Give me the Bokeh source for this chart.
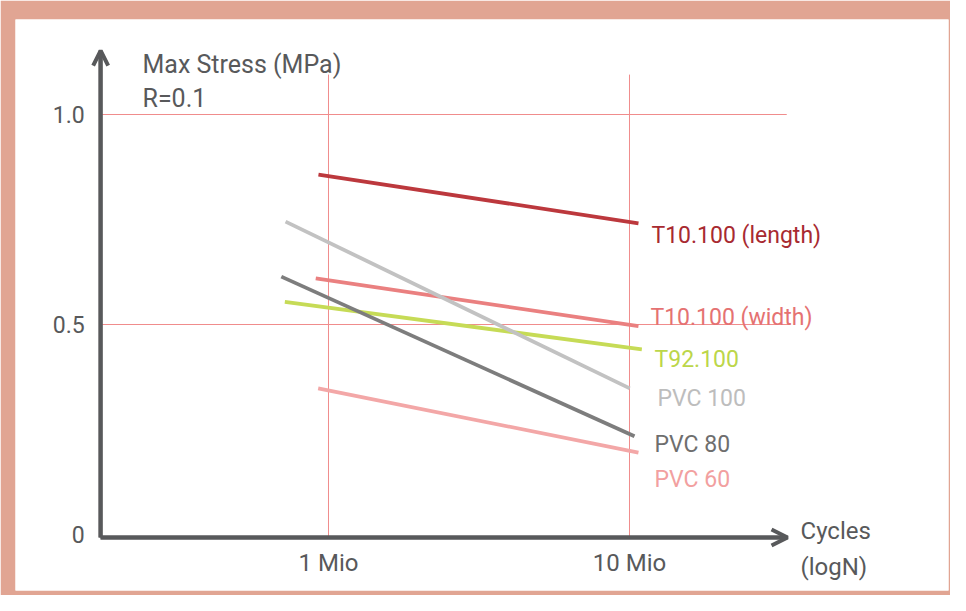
import math
from bokeh.plotting import figure
from bokeh.models import (Range1d, LinearAxis, LogAxis, FixedTicker, Arrow,
                          OpenHead, LogScale, ColumnDataSource)
from bokeh.core.properties import value
from bokeh.embed import file_html
from bokeh.resources import INLINE

# ---------------- data ----------------
series_names = ["T10.100 (length)", "T10.100 (width)", "T92.100",
                "PVC 100", "PVC 80", "PVC 60"]
cycles_start = [0.926e6, 0.907e6, 0.716e6, 0.720e6, 0.697e6, 0.924e6]
cycles_end = [10.71e6, 10.71e6, 10.99e6, 10.02e6, 10.39e6, 10.71e6]
stress_start = [0.857, 0.610, 0.554, 0.745, 0.614, 0.348]
stress_end = [0.741, 0.496, 0.441, 0.348, 0.234, 0.195]

y_ticks = [0, 0.5, 1.0]
y_tick_labels = ["0", "0.5", "1.0"]
x_ticks = [1e6, 1e7]
x_tick_labels = ["1 Mio", "10 Mio"]

y_title = ["Max Stress (MPa)", "R=0.1"]
x_title = ["Cycles", "(logN)"]

# ---------------- layout / style ----------------
FONT = "Roboto"
AX = "#58595B"
GRID = "#F08C8C"
FRAME = "#E1A593"
line_colors = ["#BC383D", "#EA8080", "#C6DB56", "#C2C2C2", "#7D7D7D", "#F3A7A7"]
text_colors = ["#A82A31", "#E57272", "#BCD64A", "#BDBDBD", "#6E6E6E", "#F2A0A0"]

label_x = [11.83e6, 11.74e6, 12.11e6, 12.39e6, 12.11e6, 12.11e6]
label_y = [0.7126, 0.5167, 0.4174, 0.3238, 0.2150, 0.1310]

X_AXIS_AT = -0.007        # stress level of the x axis line
Y_AXIS_AT = 1.75e5        # cycles position of the y axis line
Y_TIP = 1.152
X_TIP = 3.35e7
GRID_TOP = 1.095
hgrid_end = [3.40e7, 3.33e7]

p = figure(width=950, height=595,
           x_range=Range1d(91227, 114.77e6),
           y_range=Range1d(-0.13333, 1.22619),
           x_axis_type=None, y_axis_type=None,
           toolbar_location=None, output_backend="svg",
           min_border_left=15, min_border_right=2,
           min_border_top=19, min_border_bottom=5,
           border_fill_color=FRAME, background_fill_color="white",
           outline_line_color=None)
p.x_scale = LogScale()

# grid lines
p.segment(x0=x_ticks, y0=[X_AXIS_AT] * len(x_ticks), x1=x_ticks,
          y1=[GRID_TOP] * len(x_ticks), line_color=GRID, line_width=1)
hy = [t for t in y_ticks if t > 0]
p.segment(x0=[Y_AXIS_AT] * len(hy), y0=hy, x1=hgrid_end, y1=hy,
          line_color=GRID, line_width=1)

# series
src = ColumnDataSource(dict(x0=cycles_start, x1=cycles_end, y0=stress_start,
                            y1=stress_end, c=line_colors))
p.segment(x0="x0", y0="y0", x1="x1", y1="y1", line_color="c",
          line_width=3.8, line_cap="butt", source=src)

p.text(x=label_x, y=label_y, text=series_names, text_color=text_colors,
       text_font=value(FONT), text_font_size="23px",
       text_baseline="alphabetic", text_align="left")

# axis titles
p.text(x=[2.41e5, 2.41e5], y=[1.1198, 1.0381], text=y_title, text_color=AX,
       text_font=value(FONT), text_font_size="25px",
       text_baseline="alphabetic", text_align="left")
p.text(x=[3.70e7, 3.70e7], y=[0.0095, -0.0762], text=x_title, text_color=AX,
       text_font=value(FONT), text_font_size="24px",
       text_baseline="alphabetic", text_align="left")

# axes
yaxis = LinearAxis(fixed_location=Y_AXIS_AT, bounds=(X_AXIS_AT, Y_TIP),
                   ticker=FixedTicker(ticks=y_ticks),
                   major_label_overrides=dict(zip(y_ticks, y_tick_labels)),
                   axis_line_width=4, axis_line_color=AX,
                   major_tick_line_color=None, minor_tick_line_color=None,
                   major_tick_out=0, major_tick_in=0, major_label_standoff=16,
                   major_label_text_font=FONT, major_label_text_font_size="23px",
                   major_label_text_color=AX)
p.add_layout(yaxis, "left")

xaxis = LogAxis(fixed_location=X_AXIS_AT, bounds=(Y_AXIS_AT, X_TIP),
                ticker=FixedTicker(ticks=x_ticks, minor_ticks=[]),
                major_label_overrides=dict(zip(x_ticks, x_tick_labels)),
                axis_line_width=4, axis_line_color=AX,
                major_tick_line_color=None, minor_tick_line_color=None,
                major_tick_out=0, major_tick_in=0, major_label_standoff=12,
                major_label_text_font=FONT, major_label_text_font_size="24px",
                major_label_text_color=AX)
p.add_layout(xaxis, "below")

p.add_layout(Arrow(end=OpenHead(size=15, line_width=4, line_color=AX),
                   x_start=Y_AXIS_AT, y_start=X_AXIS_AT, x_end=Y_AXIS_AT, y_end=Y_TIP,
                   line_width=4, line_color=AX))
p.add_layout(Arrow(end=OpenHead(size=16, line_width=4, line_color=AX),
                   x_start=Y_AXIS_AT, y_start=X_AXIS_AT, x_end=X_TIP, y_end=X_AXIS_AT,
                   line_width=4, line_color=AX))

open("out.html", "w").write(file_html(p, INLINE))
